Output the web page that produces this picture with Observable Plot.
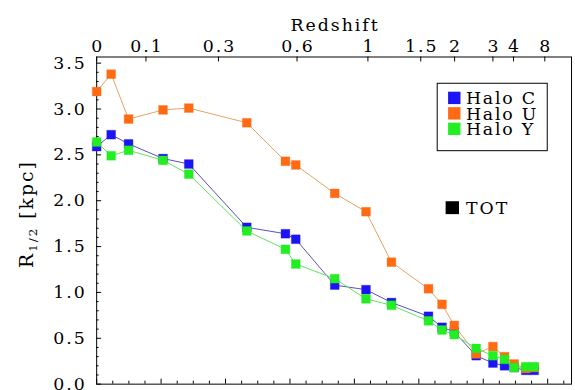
<!DOCTYPE html>
<html><head><meta charset="utf-8">
<script src="https://cdn.jsdelivr.net/npm/d3@7"></script>
<script src="https://cdn.jsdelivr.net/npm/@observablehq/plot@0.6"></script>
<style>
html,body{margin:0;padding:0;background:#fff;overflow:hidden;width:575px;height:390px;}
</style></head><body><div id="chart"></div>
<script>
// x position of each snapshot (lookback-time-like units, bottom axis unlabeled)
const xPos  = [0, 0.45, 0.99, 2.06, 2.86, 4.66, 5.86, 6.18, 7.39, 8.36, 9.15, 10.30, 10.72, 11.10, 11.78, 12.30, 12.66, 12.96, 13.32, 13.58];
// R_1/2 [kpc]
const haloC = [2.59, 2.72, 2.62, 2.46, 2.40, 1.71, 1.64, 1.58, 1.08, 1.03, 0.89, 0.74, 0.62, 0.57, 0.31, 0.23, 0.20, 0.18, 0.15, 0.15];
const haloU = [3.19, 3.38, 2.89, 2.99, 3.01, 2.85, 2.43, 2.39, 2.08, 1.88, 1.33, 1.04, 0.87, 0.64, 0.33, 0.41, 0.30, 0.22, 0.17, 0.18];
const haloY = [2.64, 2.49, 2.55, 2.44, 2.29, 1.67, 1.47, 1.31, 1.15, 0.93, 0.86, 0.69, 0.59, 0.54, 0.39, 0.31, 0.27, 0.18, 0.19, 0.19];
const seriesNames  = ["Halo C", "Halo U", "Halo Y"];
const seriesValues = [haloC, haloU, haloY];
const markerColors = ["#1c14f2", "#ff6a12", "#22ee22"];
const lineColors   = ["#5a4fb6", "#e4a262", "#5fe35f"];
// top (redshift) axis
const zTickPos    = [0, 1.53, 3.78, 6.22, 8.42, 10.06, 11.11, 12.30, 12.94, 13.91];
const zTickLabels = ["0", "0.1", "0.3", "0.6", "1", "1.5", "2", "3", "4", "8"];
// y axis ticks
const yMajor = [0, 0.5, 1.0, 1.5, 2.0, 2.5, 3.0, 3.5];
const yMinor = [0.1,0.2,0.3,0.4,0.6,0.7,0.8,0.9,1.1,1.2,1.3,1.4,1.6,1.7,1.8,1.9,2.1,2.2,2.3,2.4,2.6,2.7,2.8,2.9,3.1,3.2,3.3,3.4];
// bottom axis ticks (no labels visible)
const xMajor = [0, 2, 4, 6, 8, 10, 12, 14];
const xMinor = [0.5,1,1.5,2.5,3,3.5,4.5,5,5.5,6.5,7,7.5,8.5,9,9.5,10.5,11,11.5,12.5,13,13.5,14.5];

const W = 580, H = 390, mL = 97, mR = 4, mT = 57, mB = 3;
const iW = W - mL - mR, iH = H - mT - mB;

const seriesMarks = seriesNames.flatMap((name, s) => {
  const rows = xPos.map((x, i) => ({x, y: seriesValues[s][i], name}));
  return [
    Plot.line(rows, {x: "x", y: "y", stroke: lineColors[s], strokeWidth: 1}),
    Plot.dot(rows, {x: "x", y: "y", symbol: "square", r: 5, fill: markerColors[s], stroke: markerColors[s], strokeOpacity: 0.35, strokeWidth: 1})
  ];
});

const svgEl = Plot.plot({
  width: W, height: H,
  marginLeft: mL, marginRight: mR, marginTop: mT, marginBottom: mB,
  x: {domain: [0, 14.74], axis: null},
  y: {domain: [0, 3.567], axis: null},
  style: {fontFamily: "DejaVu Serif", fontSize: "17.5px", background: "white", overflow: "visible", letterSpacing: "2px", color: "black"},
  marks: [
    Plot.ruleY(yMajor, {insetRight: iW - 5, stroke: "black"}),
    Plot.ruleY(yMinor, {insetRight: iW - 2.5, stroke: "black"}),
    Plot.ruleX(xMajor, {insetTop: iH - 5, stroke: "black"}),
    Plot.ruleX(xMinor, {insetTop: iH - 3, stroke: "black"}),
    Plot.ruleX(zTickPos, {insetBottom: iH - 5, stroke: "black"}),
    Plot.frame({stroke: "black", strokeWidth: 1}),
    Plot.text(yMajor, {y: d => d, text: d => d.toFixed(1), frameAnchor: "left", textAnchor: "end", dx: -10, fill: "black"}),
    Plot.text(zTickLabels, {x: (d, i) => zTickPos[i], text: d => d, frameAnchor: "top", dy: -17, dx: 1, fill: "black"}),
    Plot.text(["Redshift"], {text: d => d, frameAnchor: "top", dy: -39, dx: 1, fill: "black"}),
    ...seriesMarks
  ]
});
document.getElementById("chart").appendChild(svgEl);

const svg = d3.select(svgEl);
// y-axis title with subscript
const yl = svg.append("text")
  .attr("transform", "translate(33,216) rotate(-90)")
  .attr("text-anchor", "middle")
  .attr("fill", "black")
  .style("font-size", "19px");
yl.append("tspan").text("R");
yl.append("tspan").attr("dy", 4).style("font-size", "12px").text("1/2");
yl.append("tspan").attr("dy", -4).text(" [kpc]");

// legend box
const lg = svg.append("g").attr("text-anchor", "start");
lg.append("rect").attr("x", 441).attr("y", 84).attr("width", 111).attr("height", 68)
  .attr("fill", "white").attr("stroke", "black").attr("stroke-width", 1);
seriesNames.forEach((name, s) => {
  const base = 105 + s * 15.6;
  lg.append("rect").attr("x", 452).attr("y", base - 12.5).attr("width", 12.5).attr("height", 12.5).attr("fill", markerColors[s]);
  lg.append("text").attr("x", 470).attr("y", base).attr("fill", "black").attr("text-anchor", "start").style("letter-spacing", "1.8px").text(name);
});
lg.append("rect").attr("x", 449.5).attr("y", 203).attr("width", 13.5).attr("height", 13).attr("fill", "black");
lg.append("text").attr("x", 470).attr("y", 216).attr("fill", "black").attr("text-anchor", "start").text("TOT");
</script>
</body></html>
